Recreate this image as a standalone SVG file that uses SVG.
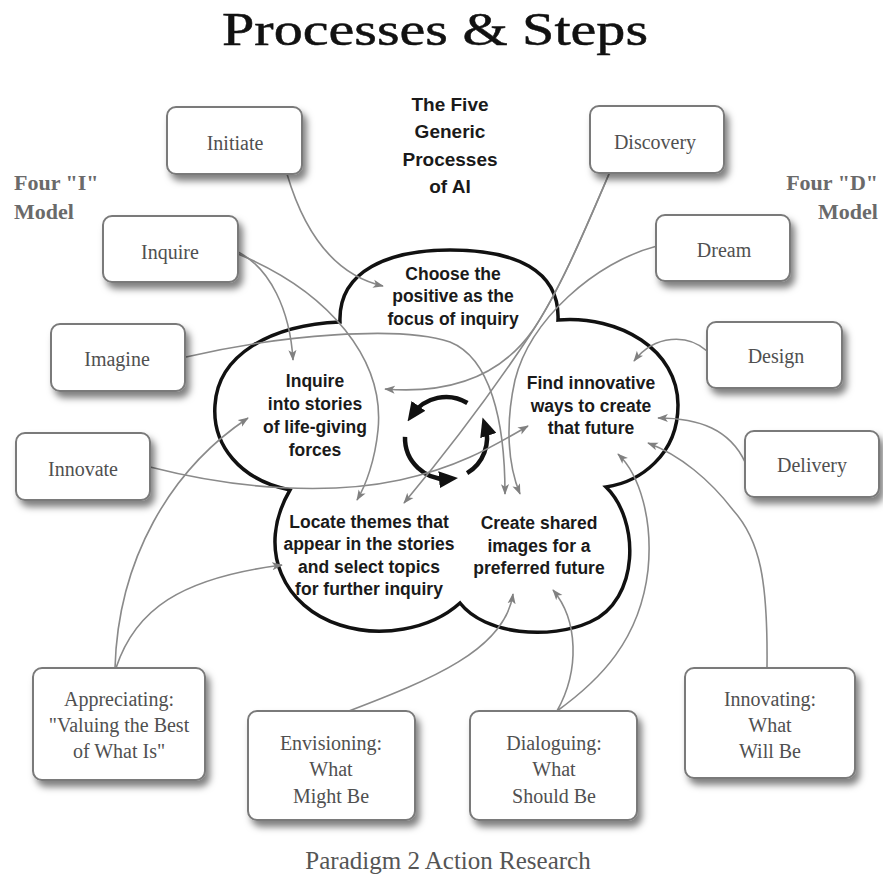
<svg xmlns="http://www.w3.org/2000/svg" width="883" height="879" viewBox="0 0 883 879">
<defs>
<filter id="sh" x="-20%" y="-20%" width="150%" height="160%">
<feDropShadow dx="4" dy="6" stdDeviation="3.5" flood-color="#000" flood-opacity="0.5"/>
</filter>
<marker id="ga" viewBox="0 0 12 10" markerWidth="11" markerHeight="9" refX="11" refY="5" orient="auto" markerUnits="userSpaceOnUse"><path d="M0,0.5 L12,5 L0,9.5 L3,5 Z" fill="#808080"/></marker>
<marker id="ba" viewBox="0 0 18 16" markerWidth="19" markerHeight="17" refX="10" refY="8" orient="auto" markerUnits="userSpaceOnUse"><path d="M0,0 L18,8 L0,16 Z" fill="#111"/></marker>
</defs>
<style>
.box rect{fill:#fff;stroke:#7a7a7a;stroke-width:2;filter:url(#sh)}
.bt{font-family:"Liberation Serif","Times New Roman",serif;font-size:20px;fill:#505050;text-anchor:middle}
.ct{font-family:"Liberation Sans",Arial,sans-serif;font-weight:bold;font-size:17.5px;fill:#1a1a1a;text-anchor:middle}
.tt{font-family:"Liberation Sans",Arial,sans-serif;font-weight:bold;font-size:19px;fill:#1a1a1a;text-anchor:middle}
.ml{font-family:"Liberation Serif","Times New Roman",serif;font-weight:bold;font-size:22px;fill:#6a6a6a}
.conn path{fill:none;stroke:#8a8a8a;stroke-width:1.6;marker-end:url(#ga)}
.cyc path{fill:none;stroke:#111;stroke-width:4.5;marker-end:url(#ba)}
</style>
<rect width="883" height="879" fill="#fff"/>
<text x="435" y="45" font-family="'Liberation Serif','Times New Roman',serif" font-size="47" fill="#111" stroke="#111" stroke-width="0.5" text-anchor="middle" textLength="426" lengthAdjust="spacingAndGlyphs">Processes &amp; Steps</text>

<g id="title5">
<text class="tt" x="450" y="111">The Five</text>
<text class="tt" x="450" y="138">Generic</text>
<text class="tt" x="450" y="166">Processes</text>
<text class="tt" x="450" y="193">of AI</text>
</g>
<text class="ml" x="14" y="190">Four "I"</text>
<text class="ml" x="14" y="219">Model</text>
<text class="ml" x="878" y="190" text-anchor="end">Four "D"</text>
<text class="ml" x="878" y="219" text-anchor="end">Model</text>

<g id="cloud">
<path d="M340,322 C338,270 390,250 450,250 C515,250 560,270 558,320 C620,315 678,350 678,405 C678,455 640,482 606,487 C640,520 640,600 590,622 C550,640 485,635 460,603 C430,630 380,638 340,625 C285,608 255,550 290,490 C240,480 212,445 215,405 C218,355 270,325 340,322 Z" fill="#fff" stroke="#111" stroke-width="3.5" stroke-linejoin="miter"/>
<text class="ct" x="453" y="280">Choose the</text>
<text class="ct" x="453" y="302">positive as the</text>
<text class="ct" x="453" y="325">focus of inquiry</text>
<text class="ct" x="315" y="387">Inquire</text>
<text class="ct" x="315" y="410">into stories</text>
<text class="ct" x="315" y="433">of life-giving</text>
<text class="ct" x="315" y="456">forces</text>
<text class="ct" x="591" y="389">Find innovative</text>
<text class="ct" x="591" y="412">ways to create</text>
<text class="ct" x="591" y="434">that future</text>
<text class="ct" x="369" y="528">Locate themes that</text>
<text class="ct" x="369" y="550">appear in the stories</text>
<text class="ct" x="369" y="573">and select topics</text>
<text class="ct" x="369" y="595">for further inquiry</text>
<text class="ct" x="539" y="529">Create shared</text>
<text class="ct" x="539" y="552">images for a</text>
<text class="ct" x="539" y="574">preferred future</text>
</g>

<g id="cycle" class="cyc">
<path d="M467.4,403 A41,41 0 0 0 412.4,414.5"/>
<path d="M405,436.9 A41,41 0 0 0 449.6,478.8"/>
<path d="M467.1,473.1 A41,41 0 0 0 485.1,425.5"/>
</g>

<g id="connectors" class="conn">
<path d="M287,174 C305,235 335,275 383,286"/>
<path d="M238,252 C270,268 290,310 293,360"/>
<path d="M238,254 C330,292 385,360 378,430 C375,460 366,485 357,500"/>
<path d="M186,357 C280,335 400,325 450,342 C490,358 505,420 505,494"/>
<path d="M150,467 C240,490 330,495 400,480 C460,467 495,445 528,426"/>
<path d="M609,174 C585,230 560,290 530,335 C490,395 440,460 404,503"/>
<path d="M609,174 C585,230 560,290 533,330 C505,370 460,395 385,389"/>
<path d="M657,246 C595,262 530,320 515,380 C505,425 508,465 520,494"/>
<path d="M707,351 C688,334 655,334 634,361"/>
<path d="M745,462 C730,430 700,418 658,418"/>
<path d="M767,668 C768,580 760,540 733,510 C710,480 680,455 648,443"/>
<path d="M115,668 C118,560 170,470 248,418"/>
<path d="M116,668 C135,610 180,578 282,565"/>
<path d="M349,711 C430,680 505,650 513,594"/>
<path d="M557,711 C580,670 578,620 553,590"/>
<path d="M557,711 C600,680 640,640 648,570 C653,520 640,475 618,454"/>
</g>

<g id="initiate" class="box"><rect x="167" y="107" width="135" height="67" rx="9"/><text class="bt" x="235" y="150">Initiate</text></g>
<g id="inquire" class="box"><rect x="103" y="216" width="135" height="66" rx="9"/><text class="bt" x="170" y="259">Inquire</text></g>
<g id="imagine" class="box"><rect x="51" y="324" width="134" height="67" rx="9"/><text class="bt" x="117" y="366">Imagine</text></g>
<g id="innovate" class="box"><rect x="16" y="433" width="134" height="67" rx="9"/><text class="bt" x="83" y="476">Innovate</text></g>
<g id="discovery" class="box"><rect x="590" y="106" width="134" height="67" rx="9"/><text class="bt" x="655" y="149">Discovery</text></g>
<g id="dream" class="box"><rect x="656" y="215" width="134" height="66" rx="9"/><text class="bt" x="724" y="257">Dream</text></g>
<g id="design" class="box"><rect x="707" y="322" width="135" height="66" rx="9"/><text class="bt" x="776" y="363">Design</text></g>
<g id="delivery" class="box"><rect x="745" y="431" width="134" height="66" rx="9"/><text class="bt" x="812" y="472">Delivery</text></g>

<g id="appreciating" class="box"><rect x="33" y="668" width="172" height="112" rx="9"/>
<text class="bt" x="119" y="706">Appreciating:</text>
<text class="bt" x="119" y="732">"Valuing the Best</text>
<text class="bt" x="119" y="758">of What Is"</text></g>
<g id="envisioning" class="box"><rect x="248" y="711" width="167" height="109" rx="9"/>
<text class="bt" x="331" y="750">Envisioning:</text>
<text class="bt" x="331" y="776">What</text>
<text class="bt" x="331" y="803">Might Be</text></g>
<g id="dialoguing" class="box"><rect x="470" y="711" width="167" height="109" rx="9"/>
<text class="bt" x="554" y="750">Dialoguing:</text>
<text class="bt" x="554" y="776">What</text>
<text class="bt" x="554" y="803">Should Be</text></g>
<g id="innovating" class="box"><rect x="685" y="668" width="170" height="110" rx="9"/>
<text class="bt" x="770" y="706">Innovating:</text>
<text class="bt" x="770" y="732">What</text>
<text class="bt" x="770" y="758">Will Be</text></g>

<text x="448" y="869" font-family="Liberation Serif,'Times New Roman',serif" font-size="25" fill="#555" text-anchor="middle">Paradigm 2 Action Research</text>
</svg>
